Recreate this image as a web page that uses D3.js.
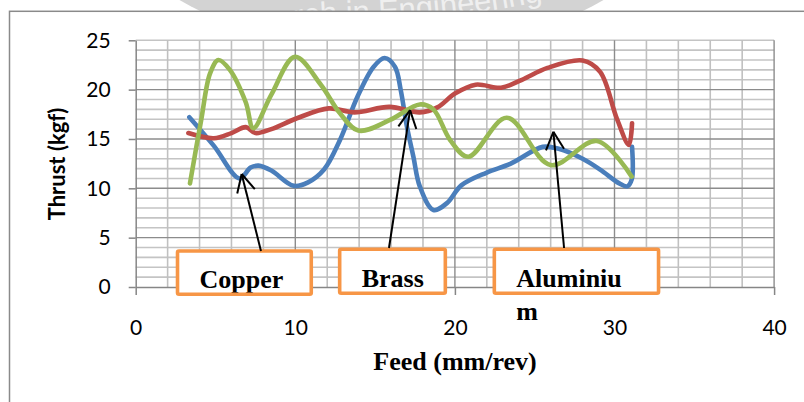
<!DOCTYPE html>
<html><head><meta charset="utf-8">
<script src="https://cdn.jsdelivr.net/npm/d3@7"></script>
<style>body{margin:0;background:#fff}svg{display:block}</style>
</head><body><svg id="c" width="804" height="402"></svg>
<script>
// ---- data ----
const feedTicks = [0, 10, 20, 30, 40];
const thrustTicks = [0, 5, 10, 15, 20, 25];
const seriesNames = ["Copper", "Brass", "Aluminium"];

const copperFeed   = [3.36, 4.9, 6.5, 7.2, 7.7, 8.5, 9.9, 10.8, 11.8, 12.8, 13.9, 14.9, 15.6, 16.25, 16.6, 17.0, 17.4, 17.8, 18.65, 19.5, 20.4, 22.0, 23.5, 25.5, 26.5, 28.0, 29.1, 30.3, 30.8, 31.08, 31.1];
const copperThrust = [17.2, 14.3, 11.0, 12.1, 12.3, 11.8, 10.25, 10.6, 11.9, 14.9, 19.3, 22.3, 23.2, 22.3, 20.0, 16.2, 13.2, 10.2, 7.8, 8.5, 10.3, 11.6, 12.5, 14.2, 14.0, 13.0, 11.9, 10.5, 10.2, 10.9, 14.2];

const brassFeed   = [3.3, 4.9, 6.0, 6.9, 7.5, 8.5, 10.1, 12.1, 13.7, 15.9, 17.8, 18.9, 20.0, 21.3, 22.9, 24.2, 25.8, 28.0, 29.1, 30.14, 30.9, 31.1];
const brassThrust = [15.6, 15.07, 15.6, 16.2, 15.6, 16.0, 17.1, 18.1, 17.7, 18.25, 17.7, 18.2, 19.6, 20.5, 20.2, 21.0, 22.2, 22.95, 21.8, 17.1, 14.4, 16.6];

const aluFeed   = [3.4, 4.1, 4.66, 5.18, 5.9, 6.9, 7.37, 8.5, 9.98, 11.6, 12.8, 13.95, 15.9, 17.8, 18.65, 19.7, 20.84, 23.25, 26.0, 28.9, 31.08];
const aluThrust = [10.5, 16.9, 21.65, 23.0, 22.0, 18.7, 16.1, 19.5, 23.33, 20.5, 17.6, 15.85, 16.9, 18.5, 18.0, 14.9, 13.2, 17.15, 12.36, 14.8, 11.18];

// annotation callouts (label text, arrow tip and arrow base in data units)
const calloutLines = [["Copper"], ["Brass"], ["Aluminiu", "m"]];
const arrowTips  = [[6.64, 11.45], [17.19, 17.93], [26.17, 15.73]];
const arrowBases = [[7.85, 3.65], [15.87, 3.95], [26.84, 3.95]];
const boxFeedFrom = [2.62, 12.78, 22.47];
const boxFeedTo   = [11.0, 19.4, 32.76];
const boxThrustTop = [3.65, 3.82, 3.82];
const boxThrustBottom = [-0.74, -0.63, -0.63];
const watermarkText = "Research in Engineering";

// ---- drawing ----
const svg = d3.select("#c");
const W = 804, H = 402;

// watermark (page background, mostly hidden by the chart area)
const wm = svg.append("g");
wm.append("circle").attr("cx", 391.5).attr("cy", -369.5).attr("r", 426).attr("fill", "#d3d3d3");
const wmPathPts = [[120, 52], [230, 37], [310, 25], [400, 20], [500, 9], [560, -3], [680, -30]];
svg.append("defs").append("path").attr("id", "wmarc")
  .attr("d", d3.line().curve(d3.curveCatmullRom)(wmPathPts));
const wmText = wm.append("text")
  .attr("font-family", "'Liberation Sans Narrow', 'Liberation Sans', Arial, sans-serif")
  .attr("font-size", 31).attr("fill", "#efefef");
const tp = wmText.append("textPath").attr("href", "#wmarc").attr("startOffset", 0).text(watermarkText);
try {
  const pre = wmText.node().getSubStringLength(0, 6);
  const pathNode = d3.select("#wmarc").node();
  // find arc length where x reaches 305
  let lo = 0, hi = pathNode.getTotalLength();
  for (let k = 0; k < 30; k++) { const m = (lo + hi) / 2; if (pathNode.getPointAtLength(m).x < 305) lo = m; else hi = m; }
  tp.attr("startOffset", Math.max(0, lo - pre));
} catch (e) { tp.attr("startOffset", 100); }

// chart area
svg.append("rect").attr("x", 9.5).attr("y", 11.3).attr("width", W).attr("height", H)
  .attr("fill", "#fff").attr("stroke", "#8a8a8a").attr("stroke-width", 1.5);

const x = d3.scaleLinear().domain([0, 40]).range([135.7, 774.1]);
const y = d3.scaleLinear().domain([0, 25]).range([287, 40.3]);

// gridlines
const grid = svg.append("g");
const hMinor = d3.range(1, 26).filter(v => v % 5 !== 0 || v === 25);
grid.selectAll(".hm").data(hMinor).join("line")
  .attr("x1", x(0)).attr("x2", x(40)).attr("y1", d => y(d)).attr("y2", d => y(d))
  .attr("stroke", "#c4c4c4").attr("stroke-width", 1.6);
const vMinor = d3.range(2, 40, 2).filter(v => v % 10 !== 0);
grid.selectAll(".vm").data(vMinor).join("line")
  .attr("y1", y(0)).attr("y2", y(25)).attr("x1", d => x(d)).attr("x2", d => x(d))
  .attr("stroke", "#c0c0c0").attr("stroke-width", 1.6);
grid.selectAll(".hM").data([5, 10, 15, 20]).join("line")
  .attr("x1", x(0)).attr("x2", x(40)).attr("y1", d => y(d)).attr("y2", d => y(d))
  .attr("stroke", "#8c8c8c").attr("stroke-width", 1.4);
grid.selectAll(".vM").data([10, 20, 30, 40]).join("line")
  .attr("y1", y(0)).attr("y2", y(25)).attr("x1", d => x(d)).attr("x2", d => x(d))
  .attr("stroke", "#8c8c8c").attr("stroke-width", 1.4);

// axes
const tickFont = "Lato, 'Open Sans', sans-serif";
const yAxis = svg.append("g").attr("transform", `translate(${x(0)},0)`)
  .call(d3.axisLeft(y).tickValues(thrustTicks).tickSize(7).tickSizeOuter(0).tickPadding(18));
const xAxis = svg.append("g").attr("transform", `translate(0,${y(0)})`)
  .call(d3.axisBottom(x).tickValues(feedTicks).tickSize(8).tickSizeOuter(0).tickPadding(25));
[yAxis, xAxis].forEach(a => {
  a.select(".domain").attr("stroke", "#868686").attr("stroke-width", 1.5);
  a.selectAll(".tick line").attr("stroke", "#868686").attr("stroke-width", 1.5);
  a.selectAll(".tick text").attr("font-family", tickFont).attr("font-size", 21).attr("fill", "#000");
});

// axis titles
svg.append("text").attr("x", 455).attr("y", 370).attr("text-anchor", "middle")
  .attr("font-family", "Liberation Serif, 'Times New Roman', serif").attr("font-weight", "bold")
  .attr("font-size", 26).text("Feed (mm/rev)");
svg.append("text").attr("transform", "translate(65,164) rotate(-90)").attr("text-anchor", "middle")
  .attr("font-family", tickFont).attr("font-weight", "bold").attr("font-size", 22).text("Thrust (kgf)");

// series
const series = [
  { name: seriesNames[0], fx: copperFeed, fy: copperThrust, color: "#4a7ebb" },
  { name: seriesNames[1], fx: brassFeed, fy: brassThrust, color: "#be4b48" },
  { name: seriesNames[2], fx: aluFeed, fy: aluThrust, color: "#98b954" }
];
const line = d3.line().x(d => x(d[0])).y(d => y(d[1])).curve(d3.curveCatmullRom.alpha(0.5));
svg.append("g").selectAll("path").data(series).join("path")
  .attr("d", s => line(s.fx.map((v, i) => [v, s.fy[i]])))
  .attr("fill", "none").attr("stroke", s => s.color).attr("stroke-width", 4.6)
  .attr("stroke-linecap", "round").attr("stroke-linejoin", "round");

// callouts
const cg = svg.append("g");
calloutLines.forEach((lines, i) => {
  const bx = x(boxFeedFrom[i]), bw = x(boxFeedTo[i]) - bx;
  const by = y(boxThrustTop[i]), bh = y(boxThrustBottom[i]) - by;
  cg.append("rect").attr("x", bx).attr("y", by).attr("width", bw).attr("height", bh).attr("fill", "#fff");
  const t = cg.append("text").attr("font-family", "Liberation Serif, 'Times New Roman', serif")
    .attr("font-weight", "bold").attr("font-size", 26).attr("fill", "#000");
  lines.forEach((l, j) => t.append("tspan").attr("x", bx + 22).attr("y", by + bh - 6 + j * 33).text(l));
  cg.append("rect").attr("x", bx).attr("y", by).attr("width", bw).attr("height", bh)
    .attr("fill", "none").attr("stroke", "#f79646").attr("stroke-width", 3.6).attr("rx", 1.5);
  // arrow
  const tx = x(arrowTips[i][0]), ty = y(arrowTips[i][1]);
  const sx = x(arrowBases[i][0]), sy = y(arrowBases[i][1]);
  cg.append("line").attr("x1", sx).attr("y1", sy).attr("x2", tx).attr("y2", ty)
    .attr("stroke", "#000").attr("stroke-width", 2);
  const ang = Math.atan2(sy - ty, sx - tx), L = 20, spread = 0.47;
  [ang - spread, ang + spread].forEach(a => {
    cg.append("line").attr("x1", tx).attr("y1", ty)
      .attr("x2", tx + L * Math.cos(a)).attr("y2", ty + L * Math.sin(a))
      .attr("stroke", "#000").attr("stroke-width", 2);
  });
});
</script></body></html>
